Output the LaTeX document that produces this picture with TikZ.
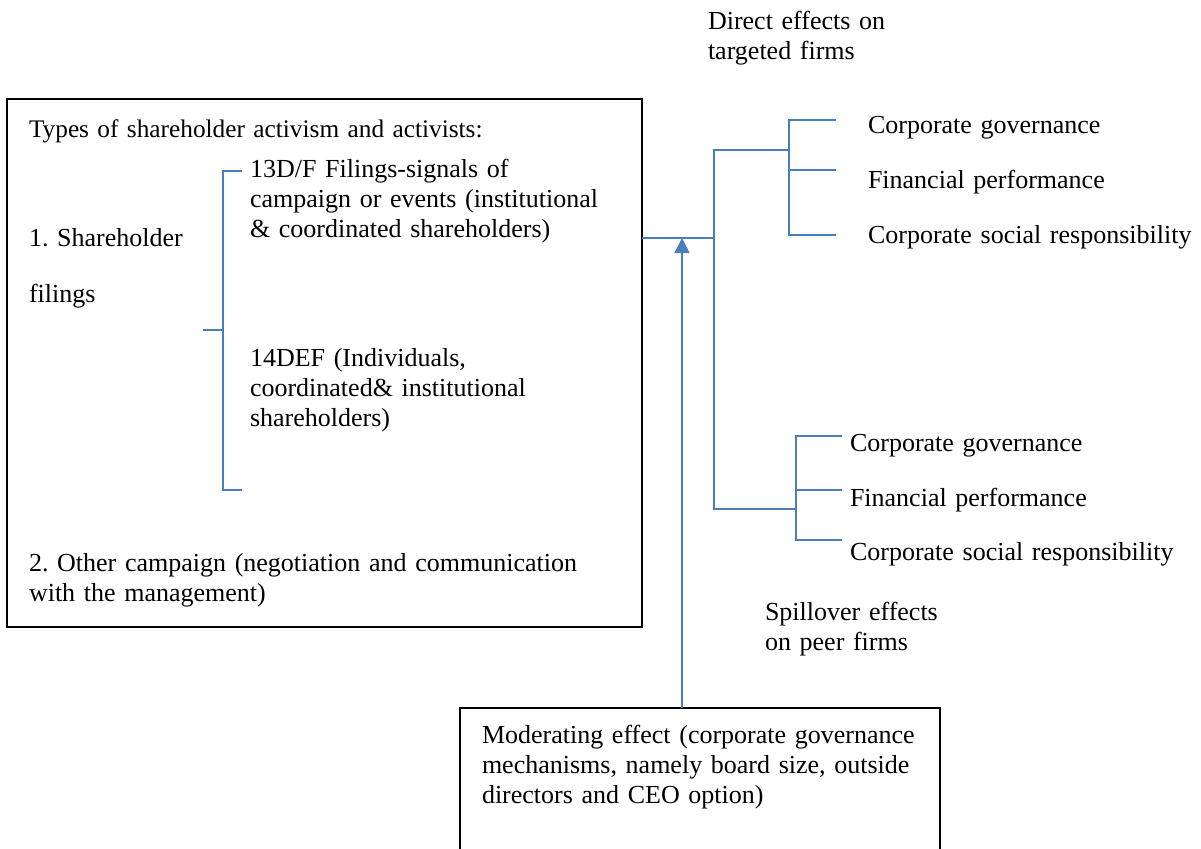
\documentclass[tikz,border=0pt]{standalone}
\usepackage{fontspec}
\setmainfont{Liberation Serif}
\usetikzlibrary{arrows.meta}
\definecolor{wordblue}{RGB}{74,126,187}
\frenchspacing
\tikzset{
  lbl/.style={anchor=base west, inner sep=0pt, outer sep=0pt, align=left, text width=#1,
    font=\fontsize{26}{30}\selectfont\frenchspacing},
  lbl/.default={400pt},
  frame/.style={draw=black, line width=1.5pt, inner sep=0pt, outer sep=0pt},
  conn/.style={draw=wordblue, line width=1.6pt},
  arr/.style={conn, -{Triangle[length=15pt,width=15pt]}}
}
\begin{document}
\begin{tikzpicture}[x=1pt,y=-1pt]
\clip (0,0) rectangle (1201,848);
\fill[white] (0,0) rectangle (1201,848);

% boxes
\node[frame, minimum width=635pt, minimum height=528pt] (box1) at (324.5,363) {};
\node[frame, minimum width=480pt, minimum height=170pt] (box2) at (700,793) {};

% box 1 texts
\node[lbl=600pt, font=\fontsize{25.3}{30}\selectfont\frenchspacing] (types) at (29,138) {Types of shareholder activism and activists:};
\node[lbl=370pt] (f13) at (250,177) {13D/F Filings-signals of\\campaign or events (institutional\\\& coordinated shareholders)};
\node[lbl=200pt] (sh) at (29,246) {1. Shareholder\\[26pt]filings};
\node[lbl=370pt] (f14) at (250,366) {14DEF (Individuals,\\coordinated\& institutional\\shareholders)};
\node[lbl=600pt] (other) at (29,571) {2. Other campaign (negotiation and communication\\with the management)};

% box 2 text
\node[lbl=450pt] (mod) at (482,743) {Moderating effect (corporate governance\\mechanisms, namely board size, outside\\directors and CEO option)};

% right texts
\node[lbl=300pt] (direct) at (708,30) {Direct effects on\\targeted firms};
\node[lbl=360pt] (cg1) at (868,134) {Corporate governance};
\node[lbl=360pt] (fp1) at (868,188) {Financial performance};
\node[lbl=360pt] (csr1) at (868,243) {Corporate social responsibility};
\node[lbl=360pt] (cg2) at (850,451) {Corporate governance};
\node[lbl=360pt] (fp2) at (850,506) {Financial performance};
\node[lbl=360pt] (csr2) at (850,560) {Corporate social responsibility};
\node[lbl=300pt] (spill) at (765,620) {Spillover effects\\on peer firms};

% coordinates of the connector network
\coordinate (lb) at (223,330);
\coordinate (lbs) at (203,330);
\coordinate (lbt) at (223,171);
\coordinate (lbb) at (223,490);
\coordinate (lbte) at (242,171);
\coordinate (lbbe) at (242,490);

\coordinate (hj) at (642,238);
\coordinate (mj) at (714,238);
\coordinate (mt) at (714,150);
\coordinate (mb) at (714,509);
\coordinate (ub) at (789,150);
\coordinate (ubt) at (789,120);
\coordinate (ubm) at (789,170);
\coordinate (ubb) at (789,235);
\coordinate (dbj) at (796,509);
\coordinate (dbt) at (796,436);
\coordinate (dbm) at (796,490);
\coordinate (dbb) at (796,540);
\coordinate (tip) at (682,238);

% left bracket
\draw[conn] (lbs) -- (lb);
\draw[conn] (lbte) -- (lbt) -- (lbb) -- (lbbe);

% main connector
\draw[conn] (box1.east |- hj) -- (mj);
\draw[conn] (ub) -- (mt) -- (mb) -- (dbj);

% upper bracket
\draw[conn] (836,120) -- (ubt) -- (ubb) -- (836,235);
\draw[conn] (ubm) -- (836,170);

% lower bracket
\draw[conn] (842,436) -- (dbt) -- (dbb) -- (842,540);
\draw[conn] (dbm) -- (842,490);

% moderating arrow
\draw[arr] (box2.north -| tip) -- (tip);
\end{tikzpicture}
\end{document}
